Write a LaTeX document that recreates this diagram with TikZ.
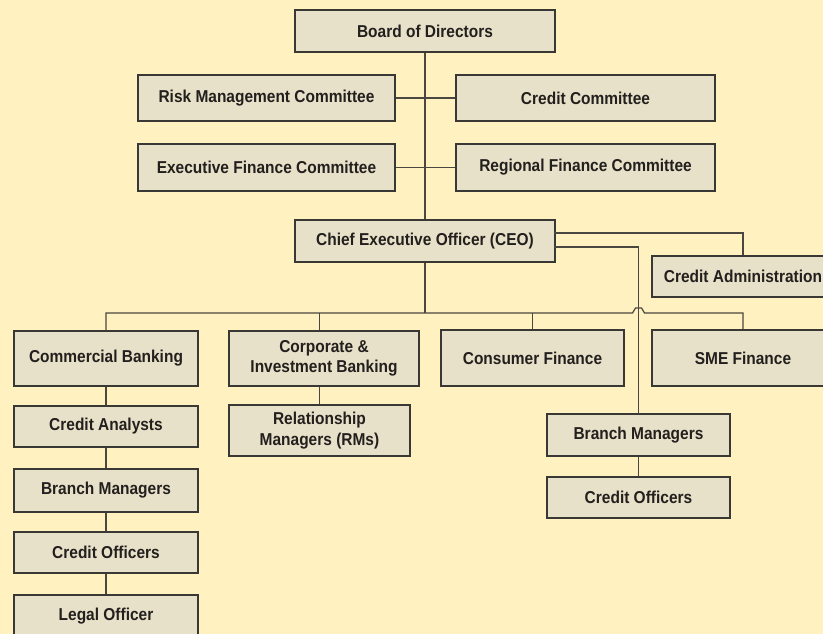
\documentclass[tikz,border=0pt]{standalone}
\usepackage{fontspec}
\setmainfont{Liberation Sans}[FakeStretch=0.9]
\usetikzlibrary{calc}
\definecolor{paper}{HTML}{FFF1C0}
\definecolor{boxfill}{HTML}{E8E1CA}
\definecolor{boxline}{HTML}{3A3834}
\definecolor{ink}{HTML}{221F1D}
\definecolor{wire}{HTML}{4A4640}
\tikzset{
  orgbox/.style={draw=boxline, line width=1.3pt, fill=boxfill, text=ink,
    font=\fontsize{17.2}{20.5}\selectfont\bfseries, align=center, inner sep=0pt},
  wirel/.style={draw=wire, line width=1.2pt},
}
\begin{document}
\begin{tikzpicture}[x=1pt,y=-1pt]
\useasboundingbox (0,0) rectangle (823,634);
\clip (0,0) rectangle (823,634);
\fill[paper] (0,0) rectangle (823,634);

% governance
\node[orgbox, minimum width=260, minimum height=42] (board) at (425,31) {Board of Directors};
\node[orgbox, minimum width=257, minimum height=46] (risk) at (266.5,98) {Risk Management Committee};
\node[orgbox, minimum width=259, minimum height=46] (credc) at (585.5,98) {Credit Committee};
\node[orgbox, minimum width=257, minimum height=47] (exec) at (266.5,167.5) {Executive Finance Committee};
\node[orgbox, minimum width=259, minimum height=47] (regional) at (585.5,167.5) {Regional Finance Committee};
\node[orgbox, minimum width=260, minimum height=42] (ceo) at (425,241) {Chief Executive Officer (CEO)};
\node[orgbox, minimum width=182, minimum height=41] (credadm) at (743,276.5) {Credit Administration};

% business units
\node[orgbox, minimum width=184, minimum height=55] (commercial) at (106,358.5) {Commercial Banking};
\node[orgbox, minimum width=190, minimum height=55] (corporate) at (324,358.5) {Corporate \&\\Investment Banking};
\node[orgbox, minimum width=183, minimum height=56] (consumer) at (532.5,358) {Consumer Finance};
\node[orgbox, minimum width=182, minimum height=56] (sme) at (743,358) {SME Finance};

% commercial banking chain
\node[orgbox, minimum width=184, minimum height=41] (analysts) at (106,426.5) {Credit Analysts};
\node[orgbox, minimum width=184, minimum height=43] (branchL) at (106,490.5) {Branch Managers};
\node[orgbox, minimum width=184, minimum height=41] (officersL) at (106,552.5) {Credit Officers};
\node[orgbox, minimum width=184, minimum height=42] (legal) at (106,616) {Legal Officer};

% corporate chain
\node[orgbox, minimum width=181, minimum height=51] (relmgr) at (319.5,430.5) {Relationship\\Managers (RMs)};

% branch network
\node[orgbox, minimum width=183, minimum height=42] (branchR) at (638.5,435) {Branch Managers};
\node[orgbox, minimum width=183, minimum height=41] (officersR) at (638.5,497.5) {Credit Officers};

% trunk and committee links
\draw[wirel] (board.south) -- (ceo.north);
\draw[wirel] (risk.east) -- (credc.west);
\draw[wirel] (exec.east) -- (regional.west);

% bus below the CEO, hopping over the branch line
\coordinate (bus) at (425,313);
\coordinate (hop) at (bus -| branchR.north);
\draw[wirel] (ceo.south) -- (bus);
\draw[wirel] (commercial.north) |- ($(hop)+(-6,0)$) -- ($(hop)+(-3,-5)$)
  -- ($(hop)+(3,-5)$) -- ($(hop)+(6,0)$) -| (sme.north);
\draw[wirel] (bus -| relmgr.north) -- (corporate.north -| relmgr.north);
\draw[wirel] (bus -| consumer.north) -- (consumer.north);

% direct lines from the CEO
\draw[wirel] ($(ceo.east)+(-2,-8)$) -| (credadm.north);
\draw[wirel] ($(ceo.east)+(-2,6)$) -| (branchR.north);

% reporting chains
\draw[wirel] (commercial.south) -- (analysts.north);
\draw[wirel] (analysts.south) -- (branchL.north);
\draw[wirel] (branchL.south) -- (officersL.north);
\draw[wirel] (officersL.south) -- (legal.north);
\draw[wirel] (corporate.south -| relmgr.north) -- (relmgr.north);
\draw[wirel] (branchR.south) -- (officersR.north);
\end{tikzpicture}
\end{document}
